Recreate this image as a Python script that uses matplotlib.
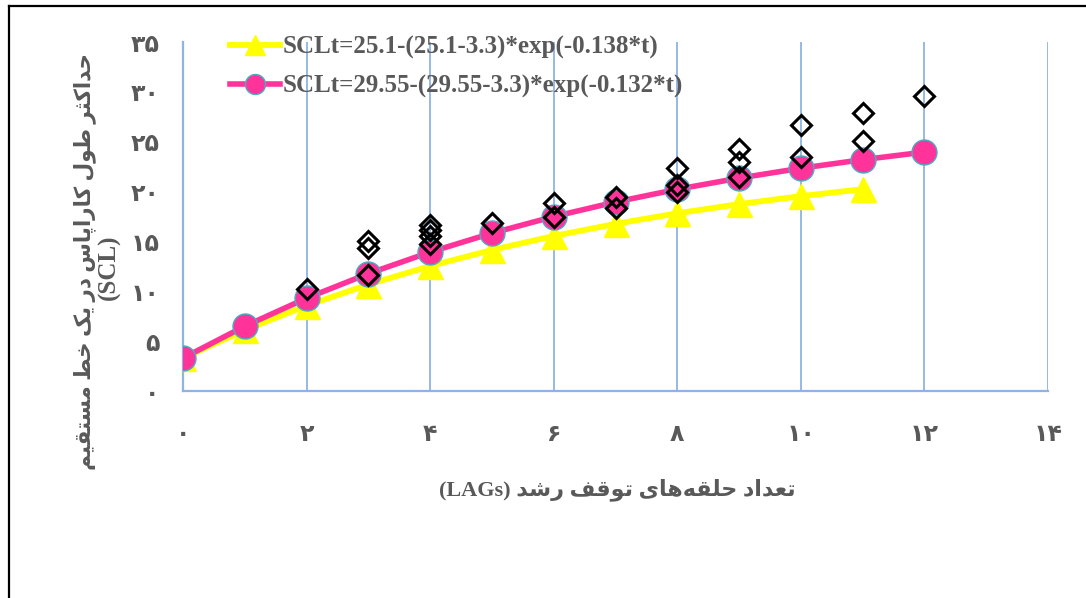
import matplotlib
matplotlib.use("Agg")
import matplotlib.pyplot as plt
from matplotlib.lines import Line2D

# ---------------- data ----------------
t_fit1 = [0, 1, 2, 3, 4, 5, 6, 7, 8, 9, 10, 11]
scl_fit1 = [3.3, 6.11, 8.56, 10.68, 12.53, 14.14, 15.54, 16.76, 17.82, 18.74, 19.54, 20.24]
t_fit2 = [0, 1, 2, 3, 4, 5, 6, 7, 8, 9, 10, 11, 12]
scl_fit2 = [3.3, 6.5, 9.31, 11.77, 13.93, 15.83, 17.49, 18.95, 20.23, 21.35, 22.34, 23.2, 23.96]
obs_t = [2, 3, 3, 3, 4, 4, 4, 4, 5, 6, 6, 7, 7, 8, 8, 8, 9, 9, 9, 10, 10, 11, 11, 12]
obs_scl = [10.2, 15.0, 14.3, 11.6, 16.6, 16.1, 15.5, 14.7, 16.8, 18.9, 17.5, 19.5, 18.4,
           22.4, 20.7, 20.0, 24.3, 23.0, 21.5, 26.7, 23.5, 27.9, 25.1, 29.6]
label1 = "SCLt=25.1-(25.1-3.3)*exp(-0.138*t)"
label2 = "SCLt=29.55-(29.55-3.3)*exp(-0.132*t)"
x_ticks = [0, 2, 4, 6, 8, 10, 12, 14]
y_ticks = [0, 5, 10, 15, 20, 25, 30, 35]
x_title = "تعداد حلقه‌های توقف رشد"
x_title_latin = "(LAGs)"
y_title = "حداکثر طول کاراپاس در یک خط مستقیم"
y_title_latin = "(SCL)"

# ---------------- minimal Persian shaping ----------------
FORMS = {  # isolated, final, initial, medial
    '\u0627': ('\uFE8D', '\uFE8E', None, None),
    '\u0628': ('\uFE8F', '\uFE90', '\uFE91', '\uFE92'),
    '\u062A': ('\uFE95', '\uFE96', '\uFE97', '\uFE98'),
    '\u062B': ('\uFE99', '\uFE9A', '\uFE9B', '\uFE9C'),
    '\u062C': ('\uFE9D', '\uFE9E', '\uFE9F', '\uFEA0'),
    '\u062D': ('\uFEA1', '\uFEA2', '\uFEA3', '\uFEA4'),
    '\u062E': ('\uFEA5', '\uFEA6', '\uFEA7', '\uFEA8'),
    '\u062F': ('\uFEA9', '\uFEAA', None, None),
    '\u0630': ('\uFEAB', '\uFEAC', None, None),
    '\u0631': ('\uFEAD', '\uFEAE', None, None),
    '\u0632': ('\uFEAF', '\uFEB0', None, None),
    '\u0633': ('\uFEB1', '\uFEB2', '\uFEB3', '\uFEB4'),
    '\u0634': ('\uFEB5', '\uFEB6', '\uFEB7', '\uFEB8'),
    '\u0635': ('\uFEB9', '\uFEBA', '\uFEBB', '\uFEBC'),
    '\u0636': ('\uFEBD', '\uFEBE', '\uFEBF', '\uFEC0'),
    '\u0637': ('\uFEC1', '\uFEC2', '\uFEC3', '\uFEC4'),
    '\u0638': ('\uFEC5', '\uFEC6', '\uFEC7', '\uFEC8'),
    '\u0639': ('\uFEC9', '\uFECA', '\uFECB', '\uFECC'),
    '\u063A': ('\uFECD', '\uFECE', '\uFECF', '\uFED0'),
    '\u0641': ('\uFED1', '\uFED2', '\uFED3', '\uFED4'),
    '\u0642': ('\uFED5', '\uFED6', '\uFED7', '\uFED8'),
    '\u06A9': ('\uFB8E', '\uFB8F', '\uFB90', '\uFB91'),
    '\u0644': ('\uFEDD', '\uFEDE', '\uFEDF', '\uFEE0'),
    '\u0645': ('\uFEE1', '\uFEE2', '\uFEE3', '\uFEE4'),
    '\u0646': ('\uFEE5', '\uFEE6', '\uFEE7', '\uFEE8'),
    '\u0647': ('\uFEE9', '\uFEEA', '\uFEEB', '\uFEEC'),
    '\u0648': ('\uFEED', '\uFEEE', None, None),
    '\u06CC': ('\uFBFC', '\uFBFD', '\uFBFE', '\uFBFF'),
    '\u067E': ('\uFB56', '\uFB57', '\uFB58', '\uFB59'),
}


def dual(c):
    return c in FORMS and FORMS[c][2] is not None


def shape(s):
    out = []
    n = len(s)
    for i, c in enumerate(s):
        if c == '\u200C':
            continue
        if c not in FORMS:
            out.append(c)
            continue
        prev = s[i - 1] if i > 0 else ''
        nxt = s[i + 1] if i + 1 < n else ''
        jp = dual(prev)
        jn = dual(c) and nxt in FORMS
        iso, fin, ini, med = FORMS[c]
        if jp and jn:
            out.append(med)
        elif jp:
            out.append(fin)
        elif jn:
            out.append(ini)
        else:
            out.append(iso)
    return ''.join(out)[::-1]


def fa_digits(v):
    return ''.join('۰۱۲۳۴۵۶۷۸۹'[int(ch)] for ch in str(v))


# ---------------- figure ----------------
GRAY = '#595959'
GRID = '#8EB4E3'
FAM = ['Liberation Serif', 'DejaVu Sans']

fig = plt.figure(figsize=(10.86, 5.98), dpi=100)
ax = fig.add_axes([183 / 1086, 1 - 391 / 598, (1048 - 183) / 1086, (391 - 42) / 598])

ax.plot(t_fit1, scl_fit1, color='#FFFF00', lw=4.2, marker='^', ms=18,
        mfc='#FFFF00', mec='#FFFF00', label=label1, zorder=3)
ax.plot(t_fit2, scl_fit2, color='#FF3399', lw=4.0, marker='o', ms=18,
        mfc='#FF3399', mec='#4BACC6', mew=1.0, label=label2, zorder=4)
ax.plot(obs_t, obs_scl, ls='none', marker='D', ms=10.5, mfc='none',
        mec='black', mew=2.2, zorder=5)

ax.set_xlim(0, 14)
ax.set_ylim(0, 35)
ax.set_xticks(x_ticks)
ax.set_yticks(y_ticks)
ax.set_xticklabels([fa_digits(v) for v in x_ticks])
ax.set_yticklabels([fa_digits(v) for v in y_ticks])
ax.tick_params(axis='both', length=0, labelcolor=GRAY, labelsize=17)
ax.tick_params(axis='x', pad=22)
ax.tick_params(axis='y', pad=17)
for lab in ax.get_xticklabels() + ax.get_yticklabels():
    lab.set_fontweight('bold')
    lab.set_family(['DejaVu Sans'])

ax.grid(axis='x', color=GRID, lw=1.3)
ax.set_axisbelow(True)
for side in ('top', 'right'):
    ax.spines[side].set_visible(False)
for side in ('left', 'bottom'):
    ax.spines[side].set_color(GRID)
    ax.spines[side].set_linewidth(1.6)

leg = ax.legend(loc='upper left', bbox_to_anchor=(230 / 1086, 1 - 36 / 598),
                bbox_transform=fig.transFigure, frameon=False, borderpad=0,
                borderaxespad=0, handlelength=2.0, handletextpad=0.1,
                labelspacing=0.62, markerscale=0.8,
                prop={'family': FAM, 'weight': 'bold', 'size': 18})
for txt in leg.get_texts():
    txt.set_color(GRAY)

# axis titles
fig.text(85 / 1086, 1 - 262 / 598, shape(y_title), rotation=90, ha='center', va='center',
         color=GRAY, fontsize=15.5, fontweight='bold', family=FAM)
fig.text(109 / 1086, 1 - 267 / 598, y_title_latin, rotation=90, ha='center', va='center',
         color=GRAY, fontsize=18, fontweight='bold', family=FAM)
fig.text(617 / 1086, 1 - 490 / 598, x_title_latin + ' ' + shape(x_title), ha='center',
         va='center', color=GRAY, fontsize=16, fontweight='bold', family=FAM)

# outer frame (top and left edges visible)
fig.add_artist(Line2D([9 / 1086, 9 / 1086], [0, 1 - 6 / 598], transform=fig.transFigure,
                      color='black', lw=1.6))
fig.add_artist(Line2D([9 / 1086, 1], [1 - 6 / 598, 1 - 6 / 598], transform=fig.transFigure,
                      color='black', lw=1.6))

fig.savefig('out.png', dpi=100)
